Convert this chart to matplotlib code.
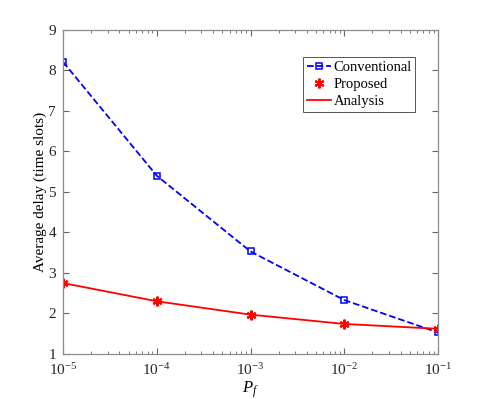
import matplotlib
matplotlib.use("Agg")
import matplotlib.pyplot as plt
import numpy as np

plt.rcParams['font.family'] = ['Liberation Serif', 'DejaVu Serif']
plt.rcParams['mathtext.fontset'] = 'custom'
plt.rcParams['mathtext.it'] = 'Liberation Serif:italic'
plt.rcParams['mathtext.rm'] = 'Liberation Serif'

# data
pf = [1e-5, 1e-4, 1e-3, 1e-2, 1e-1]
conventional = [8.21, 5.40, 3.53, 2.33, 1.53]
proposed = [2.75, 2.30, 1.97, 1.74, 1.62]
analysis = [2.75, 2.30, 1.97, 1.74, 1.62]

fig = plt.figure(figsize=(4.85, 3.99), dpi=100)
ax = fig.add_axes([0.130, 0.113, 0.773, 0.812])

ax.plot(pf, conventional, '--', color='blue', marker='s', markersize=4.5,
	markerfacecolor='none', markeredgewidth=1.1, linewidth=1.3, label='Conventional')
ax.plot(pf, proposed, linestyle='none', color='red', marker=(6, 2, 0), markersize=7,
	markeredgewidth=1.5, label='Proposed')
ax.plot(pf, analysis, '-', color='red', linewidth=1.3, label='Analysis')

ax.set_xscale('log')
ax.set_xlim(1e-5, 1e-1)
ax.set_ylim(1, 9)
ax.set_yticks(range(1, 10))
ax.set_xticks(pf)
ax.tick_params(which='both', direction='in', top=True, right=True, labelsize=11,
	color='#666666', labelcolor='#262626')
ax.tick_params(which='major', length=4)
ax.tick_params(which='minor', length=2)
ax.tick_params(axis='x', pad=6)
ax.tick_params(axis='y', pad=5)
for s in ax.spines.values():
	s.set_color('#8c8c8c')
	s.set_linewidth(0.9)

ax.set_xlabel('$P_f$', fontsize=12, labelpad=1)
ax.set_ylabel('Average delay (time slots)', fontsize=11, labelpad=1)

leg = ax.legend(loc='upper right', bbox_to_anchor=(0.94, 0.915), fontsize=10.5,
	fancybox=False, framealpha=1, edgecolor='#555555', borderpad=0.25,
	labelspacing=0.25, handlelength=1.7, handletextpad=0.15, borderaxespad=0)
leg.get_frame().set_linewidth(0.7)

fig.savefig('out.png', dpi=100)
